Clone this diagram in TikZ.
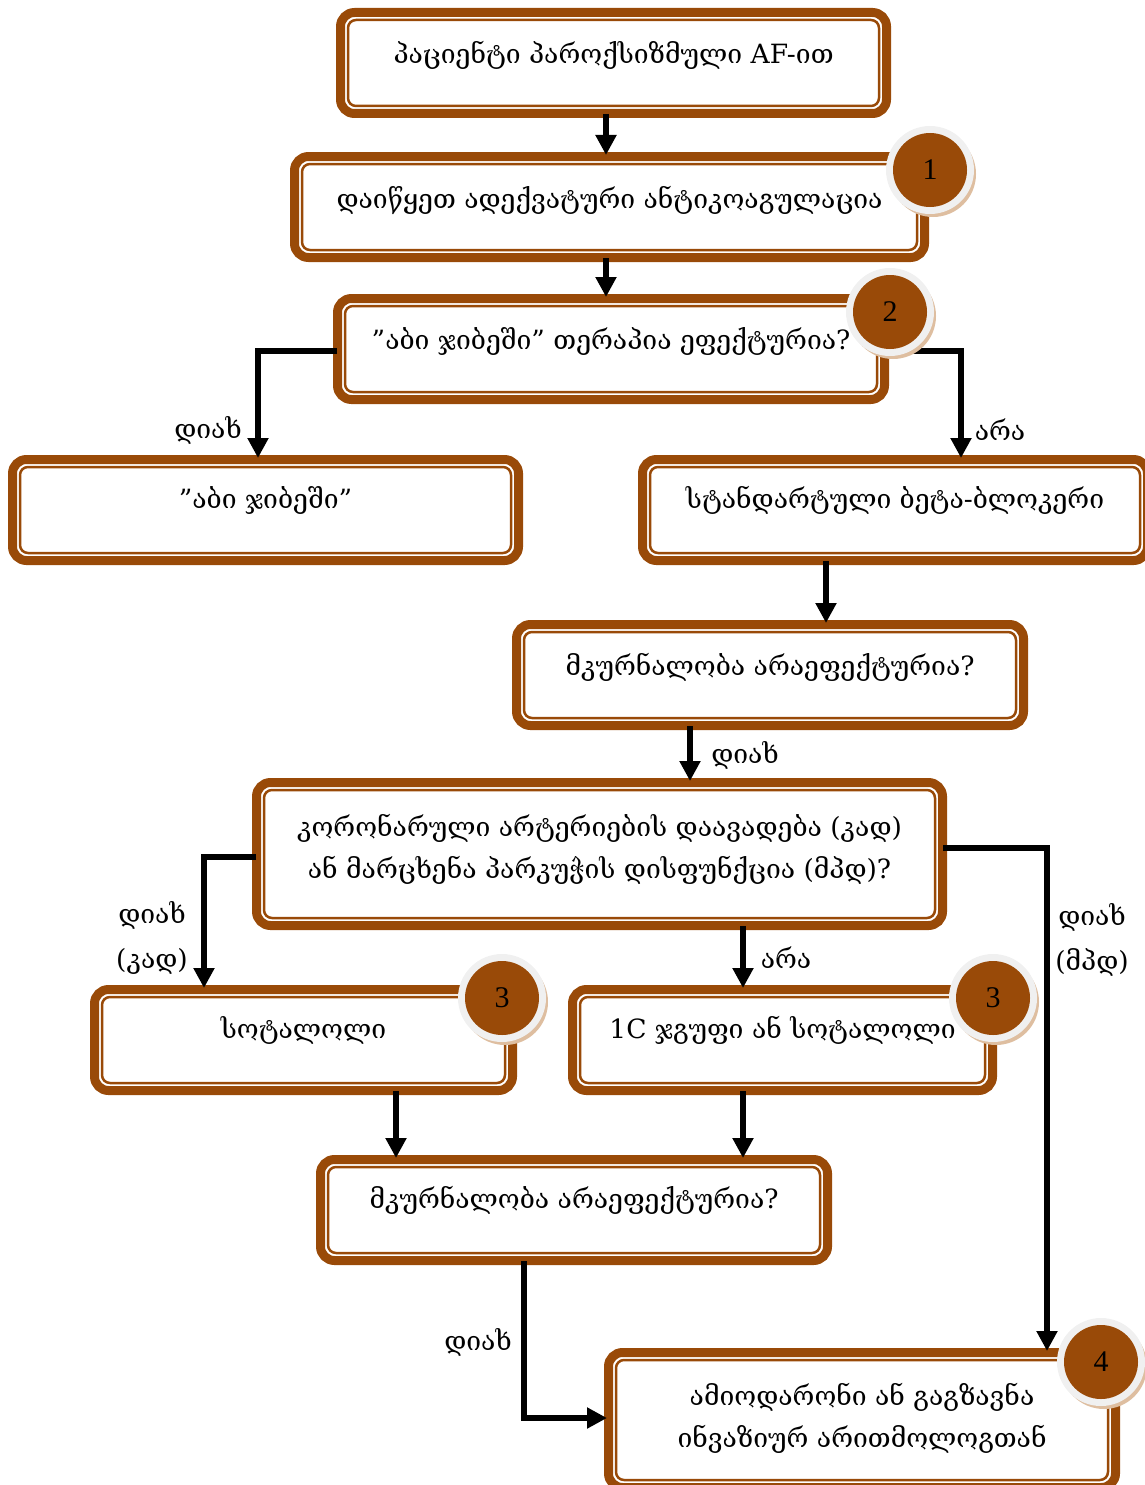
\documentclass[tikz,border=0pt]{standalone}
\usepackage{fontspec}
\setmainfont{DejaVu Serif}
\newfontfamily\numfont{Liberation Serif}
\usetikzlibrary{arrows.meta}
\definecolor{brn}{RGB}{153,74,8}
\definecolor{ringgray}{RGB}{240,240,240}
\definecolor{shadetan}{RGB}{222,190,160}

\tikzset{
  inbox/.style={draw=brn, line width=2.5pt, rounded corners=8pt, outer sep=12pt, inner sep=0pt},
  outbox/.style={draw=brn, line width=9pt, rounded corners=14pt},
  txt/.style={font=\fontsize{26.5}{42}\selectfont, align=center, inner sep=0pt},
  lbl/.style={font=\fontsize{26.5}{45}\selectfont, align=center, inner sep=0pt},
  arr/.style={draw=black, line width=6pt, shorten >=-3pt, shorten <=-4pt,
              -{Triangle[width=20pt,length=20pt]}},
}

% flow box: name, x1, y1, x2, y2, text y, text
\newcommand\fbx[7]{%
  \node[inbox, minimum width={#4-#2-24}, minimum height={#5-#3-24}] (#1) at ({(#2+#4)/2},{(#3+#5)/2}) {};
  \draw[outbox] ({#2+4.5},{#3+4.5}) rectangle ({#4-4.5},{#5-4.5});
  \node[txt] (#1-t) at ({(#2+#4)/2},#6) {#7};
}
% numbered badge: name, x, y, number
\newcommand\badge[4]{%
  \fill[shadetan] (#2+3,#3+4) circle (43pt);
  \node[circle, fill=ringgray, minimum size=88pt, inner sep=0pt] (#1) at (#2,#3) {};
  \node[circle, fill=brn, minimum size=74pt, inner sep=0pt, font=\numfont\fontsize{30}{30}\selectfont] (#1-n) at (#2,#3) {#4};
}

\begin{document}
\begin{tikzpicture}[x=1pt, y=-1pt]
\useasboundingbox (0,0) rectangle (1145,1485);

% boxes
\fbx{A}{336}{8}{891}{118}{55}{პაციენტი პაროქსიზმული AF-ით}
\fbx{B}{290}{152}{929}{262}{200}{დაიწყეთ ადექვატური ანტიკოაგულაცია}
\fbx{C}{333}{294}{889}{404}{341}{”აბი ჯიბეში” თერაპია ეფექტურია?}
\fbx{D}{8}{455}{523}{565}{500}{”აბი ჯიბეში”}
\fbx{E}{638}{455}{1152}{565}{500}{სტანდარტული ბეტა-ბლოკერი}
\fbx{F}{512}{620}{1028}{730}{667}{მკურნალობა არაეფექტურია?}
\fbx{G}{252}{778}{947}{930}{849}{კორონარული არტერიების დაავადება (კად)\\ან მარცხენა პარკუჭის დისფუნქცია (მპდ)?}
\fbx{H}{90}{985}{517}{1095}{1030}{სოტალოლი}
\fbx{I}{568}{985}{997}{1095}{1030}{1C ჯგუფი ან სოტალოლი}
\fbx{J}{316}{1155}{832}{1265}{1200}{მკურნალობა არაეფექტურია?}
\fbx{K}{604}{1348}{1120}{1492}{1418}{ამიოდარონი ან გაგზავნა\\ინვაზიურ არითმოლოგთან}

% connectors
\draw[arr] (A.south -| 606,0) -- (B.north -| 606,0);
\draw[arr] (B.south -| 606,0) -- (C.north -| 606,0);
\draw[arr] (C.west |- 0,351) -- (258,351) -- (D.north -| 258,0);
\draw[arr] (C.east |- 0,351) -- (961,351) -- (E.north -| 961,0);
\draw[arr] (E.south -| 826,0) -- (F.north -| 826,0);
\draw[arr] (F.south -| 690,0) -- (G.north -| 690,0);
\draw[arr] (G.west |- 0,857) -- (204,857) -- (H.north -| 204,0);
\draw[arr] (G.south -| 743,0) -- (I.north -| 743,0);
\draw[arr] (G.east |- 0,848) -- (1047,848) -- (K.north -| 1047,0);
\draw[arr] (H.south -| 396,0) -- (J.north -| 396,0);
\draw[arr] (I.south -| 743,0) -- (J.north -| 743,0);
\draw[arr] (J.south -| 524,0) -- (524,1418) -- (K.west |- 0,1418);

% connector labels
\node[lbl] (l1) at (208,430) {დიახ};
\node[lbl] (l2) at (1000,430) {არა};
\node[lbl] (l3) at (745,755) {დიახ};
\node[lbl] (l4) at (152,938) {დიახ\\(კად)};
\node[lbl] (l5) at (786,958) {არა};
\node[lbl] (l6) at (1092,940) {დიახ\\(მპდ)};
\node[lbl] (l7) at (478,1342) {დიახ};

% numbered badges
\badge{n1}{930}{170}{1}
\badge{n2}{890}{312}{2}
\badge{n3}{502}{998}{3}
\badge{n4}{993}{998}{3}
\badge{n5}{1101}{1362}{4}
\end{tikzpicture}
\end{document}
